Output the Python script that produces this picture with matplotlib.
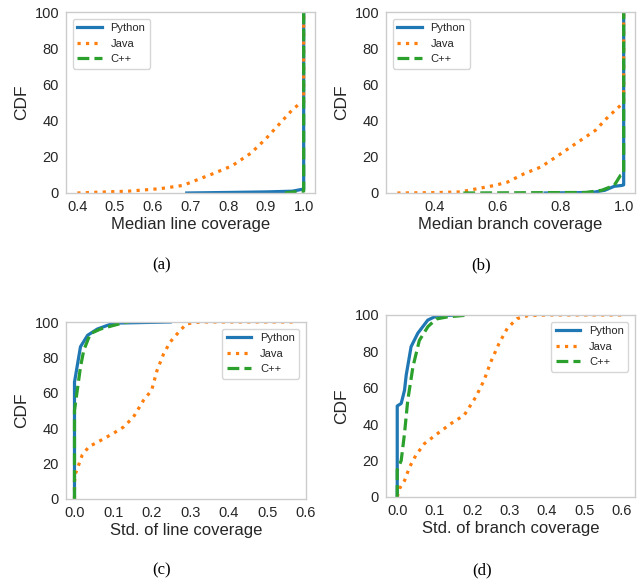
import matplotlib

matplotlib.use("Agg")
import matplotlib.pyplot as plt

# (a) median line coverage: CDF (%) per language
a_python_x = [0.69, 0.80, 0.90, 0.97, 0.995, 1.0, 1.0]
a_python_y = [0.0, 0.3, 0.6, 1.0, 2.0, 2.0, 100.0]
a_java_x = [0.40, 0.45, 0.535, 0.62, 0.68, 0.76, 0.81, 0.86, 0.90, 0.935, 0.97, 0.99, 1.0, 1.0]
a_java_y = [0.0, 0.4, 1.0, 2.4, 4.2, 10.7, 15.0, 22.0, 30.0, 38.0, 46.0, 49.5, 50.0, 100.0]
a_cpp_x = [0.95, 0.99, 1.0, 1.0]
a_cpp_y = [0.0, 1.0, 1.0, 100.0]

# (b) median branch coverage
b_python_x = [0.75, 0.90, 0.94, 0.97, 0.995, 1.0, 1.0]
b_python_y = [0.0, 0.3, 1.5, 3.7, 4.2, 4.5, 100.0]
b_java_x = [0.28, 0.40, 0.48, 0.59, 0.63, 0.684, 0.737, 0.80, 0.845, 0.91, 0.95, 0.99, 1.0, 1.0]
b_java_y = [0.0, 0.2, 0.6, 4.2, 6.0, 10.7, 14.4, 21.7, 27.0, 34.6, 42.0, 48.4, 50.0, 100.0]
b_cpp_x = [0.49, 0.88, 0.93, 0.97, 0.99, 1.0, 1.0]
b_cpp_y = [0.0, 0.3, 1.5, 4.2, 9.8, 10.7, 100.0]

# (c) std. of line coverage
c_python_x = [0.0, 0.0, 0.0155, 0.034, 0.059, 0.093, 0.11, 0.248]
c_python_y = [0.0, 66.0, 86.0, 92.5, 96.0, 98.7, 99.4, 100.0]
c_java_x = [0.0, 0.0, 0.003, 0.02, 0.037, 0.067, 0.10, 0.128, 0.153, 0.179, 0.20,
            0.214, 0.231, 0.248, 0.274, 0.291, 0.326, 0.567]
c_java_y = [0.0, 10.0, 14.5, 24.8, 29.5, 33.0, 37.0, 40.8, 46.4, 55.8, 61.5,
            72.7, 82.0, 88.7, 95.3, 99.0, 100.0, 100.0]
c_cpp_x = [0.0, 0.0, 0.0155, 0.024, 0.041, 0.067, 0.10, 0.128, 0.14]
c_cpp_y = [0.0, 50.0, 74.6, 84.0, 93.4, 96.0, 98.0, 99.6, 100.0]

# (d) std. of branch coverage
d_python_x = [0.0, 0.0, 0.0106, 0.0195, 0.024, 0.037, 0.055, 0.0816, 0.104, 0.16]
d_python_y = [0.0, 50.0, 51.4, 58.7, 67.0, 82.6, 90.0, 97.2, 99.4, 100.0]
d_java_x = [0.0, 0.006, 0.0195, 0.033, 0.05, 0.073, 0.108, 0.144, 0.179, 0.21,
            0.232, 0.25, 0.272, 0.294, 0.32, 0.348, 0.40, 0.605]
d_java_y = [0.0, 4.6, 9.0, 16.5, 23.0, 29.4, 34.9, 40.4, 45.0, 55.0,
            64.2, 74.3, 84.4, 92.7, 98.0, 99.6, 100.0, 100.0]
d_cpp_x = [0.0, 0.0, 0.0106, 0.0195, 0.028, 0.042, 0.059, 0.082, 0.104, 0.135, 0.192]
d_cpp_y = [0.0, 15.0, 20.0, 35.0, 53.0, 71.6, 86.0, 93.6, 97.8, 99.0, 100.0]

languages = ["Python", "Java", "C++"]
xlabels = [
    "Median line coverage",
    "Median branch coverage",
    "Std. of line coverage",
    "Std. of branch coverage",
]
captions = ["(a)", "(b)", "(c)", "(d)"]

COLORS = ["#1f77b4", "#ff7f0e", "#2ca02c"]
STYLES = ["-", ":", "--"]
TEXT = "#262626"

plt.rcParams.update({
    "font.family": ["Liberation Sans", "DejaVu Sans"],
    "axes.edgecolor": "#cccccc",
    "axes.linewidth": 1.0,
    "text.color": TEXT,
    "axes.labelcolor": TEXT,
    "xtick.color": TEXT,
    "ytick.color": TEXT,
})

W, H = 641, 583
fig = plt.figure(figsize=(W / 100, H / 100), dpi=100)


def box(left, top, right, bottom):
    return [left / W, 1 - bottom / H, (right - left) / W, (bottom - top) / H]


panels = [
    dict(rect=box(66, 12, 315, 193), xlim=(0.37, 1.03),
         xticks=[0.4, 0.5, 0.6, 0.7, 0.8, 0.9, 1.0], legend="upper left",
         series=[(a_python_x, a_python_y), (a_java_x, a_java_y), (a_cpp_x, a_cpp_y)],
         cap=(162, 265)),
    dict(rect=box(386, 12, 635, 193), xlim=(0.244, 1.036),
         xticks=[0.4, 0.6, 0.8, 1.0], legend="upper left",
         series=[(b_python_x, b_python_y), (b_java_x, b_java_y), (b_cpp_x, b_cpp_y)],
         cap=(481, 265)),
    dict(rect=box(66, 322, 306, 499), xlim=(-0.022, 0.6),
         xticks=[0.0, 0.1, 0.2, 0.3, 0.4, 0.5, 0.6], legend="upper right",
         series=[(c_python_x, c_python_y), (c_java_x, c_java_y), (c_cpp_x, c_cpp_y)],
         cap=(162, 570)),
    dict(rect=box(386, 315, 635, 497), xlim=(-0.03, 0.635),
         xticks=[0.0, 0.1, 0.2, 0.3, 0.4, 0.5, 0.6], legend="upper right",
         series=[(d_python_x, d_python_y), (d_java_x, d_java_y), (d_cpp_x, d_cpp_y)],
         cap=(482, 570)),
]

for p, xlabel, caption in zip(panels, xlabels, captions):
    ax = fig.add_axes(p["rect"])
    for (xs, ys), lang, color, ls in zip(p["series"], languages, COLORS, STYLES):
        ax.plot(xs, ys, color=color, linestyle=ls, linewidth=2.3, label=lang)
    ax.set_xlim(*p["xlim"])
    ax.set_ylim(0, 100)
    ax.set_xticks(p["xticks"])
    ax.set_xticklabels([f"{t:.1f}" for t in p["xticks"]])
    ax.set_yticks([0, 20, 40, 60, 80, 100])
    ax.tick_params(length=0, pad=5, labelsize=10.5)
    ax.set_xlabel(xlabel, fontsize=12, labelpad=2)
    ax.set_ylabel("CDF", fontsize=12.5, labelpad=4)
    leg = ax.legend(loc=p["legend"], fontsize=8, frameon=True, fancybox=True,
                    handlelength=2.2, borderaxespad=0.6)
    leg.get_frame().set_edgecolor("#cccccc")
    fig.text(p["cap"][0] / W, 1 - p["cap"][1] / H, caption, ha="center", va="center",
             fontsize=12, family=["Liberation Serif", "DejaVu Serif"], color="black")

fig.savefig("out.png", dpi=100, facecolor="white")
